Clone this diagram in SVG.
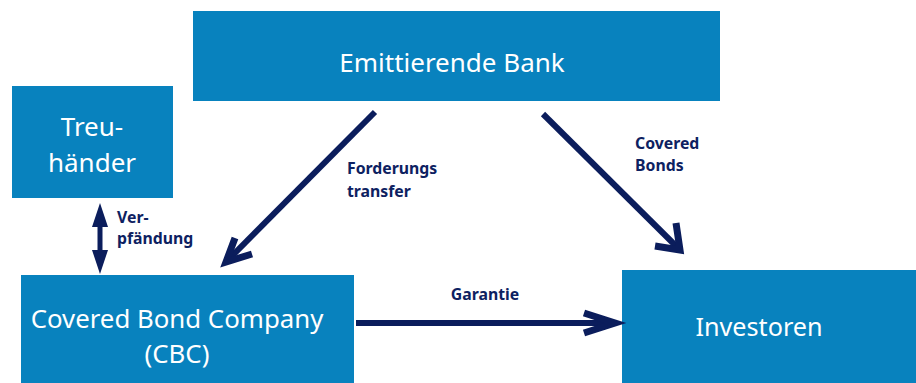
<svg xmlns="http://www.w3.org/2000/svg" width="916" height="383" viewBox="0 0 916 383">
  <style>
    .box { fill: #0882be; }
    .title { font-family: "Noto Sans", "Open Sans", sans-serif; fill: #ffffff; text-anchor: middle; }
    .label { font-family: "Noto Sans", "Open Sans", sans-serif; font-weight: bold; font-size: 15.8px; fill: #0d2161; }
    .line { stroke: #0b1d5c; stroke-width: 6; fill: none; }
    .head { stroke: #0b1d5c; stroke-width: 7; fill: none; stroke-linejoin: miter; }
  </style>
  <rect width="916" height="383" fill="#ffffff"/>

  <g id="bank">
    <rect class="box" x="193" y="11" width="527" height="90"/>
    <text class="title" x="452" y="72" font-size="26">Emittierende Bank</text>
  </g>

  <g id="treuhaender">
    <rect class="box" x="12" y="86" width="161" height="112"/>
    <text class="title" x="92" y="136" font-size="26">Treu-</text>
    <text class="title" x="92" y="172" font-size="26">händer</text>
  </g>

  <g id="cbc">
    <rect class="box" x="21" y="275" width="333" height="108"/>
    <text class="title" x="177" y="328" font-size="25.8">Covered Bond Company</text>
    <text class="title" x="177" y="363" font-size="25.8">(CBC)</text>
  </g>

  <g id="investoren">
    <rect class="box" x="622" y="270" width="294" height="113"/>
    <text class="title" x="759" y="336" font-size="25.2">Investoren</text>
  </g>

  <g id="connectors">
    <!-- Forderungstransfer: bank to CBC -->
    <line class="line" x1="375" y1="112" x2="227" y2="261"/>
    <polyline class="head" points="235,238 226,262 252,254"/>
    <text class="label" x="347" y="174">Forderungs</text>
    <text class="label" x="347" y="197">transfer</text>

    <!-- Covered Bonds: bank to investors -->
    <line class="line" x1="543" y1="114" x2="677" y2="247"/>
    <polyline class="head" points="676,223 680,250 655,246"/>
    <text class="label" x="635" y="149">Covered</text>
    <text class="label" x="635" y="171">Bonds</text>

    <!-- Garantie: CBC to investors -->
    <line class="line" x1="356" y1="323" x2="614" y2="323"/>
    <polyline class="head" points="584,313 615,323 584,333"/>
    <text class="label" x="485" y="300" text-anchor="middle">Garantie</text>

    <!-- Verpfaendung: trustee to CBC, both ways -->
    <line x1="100" y1="222" x2="100" y2="256" stroke="#0b1d5c" stroke-width="5"/>
    <polygon points="100,203 108,227 92,227" fill="#0b1d5c"/>
    <polygon points="100,274 108,250 92,250" fill="#0b1d5c"/>
    <text class="label" x="117" y="223">Ver-</text>
    <text class="label" x="117" y="244">pfändung</text>
  </g>
</svg>
